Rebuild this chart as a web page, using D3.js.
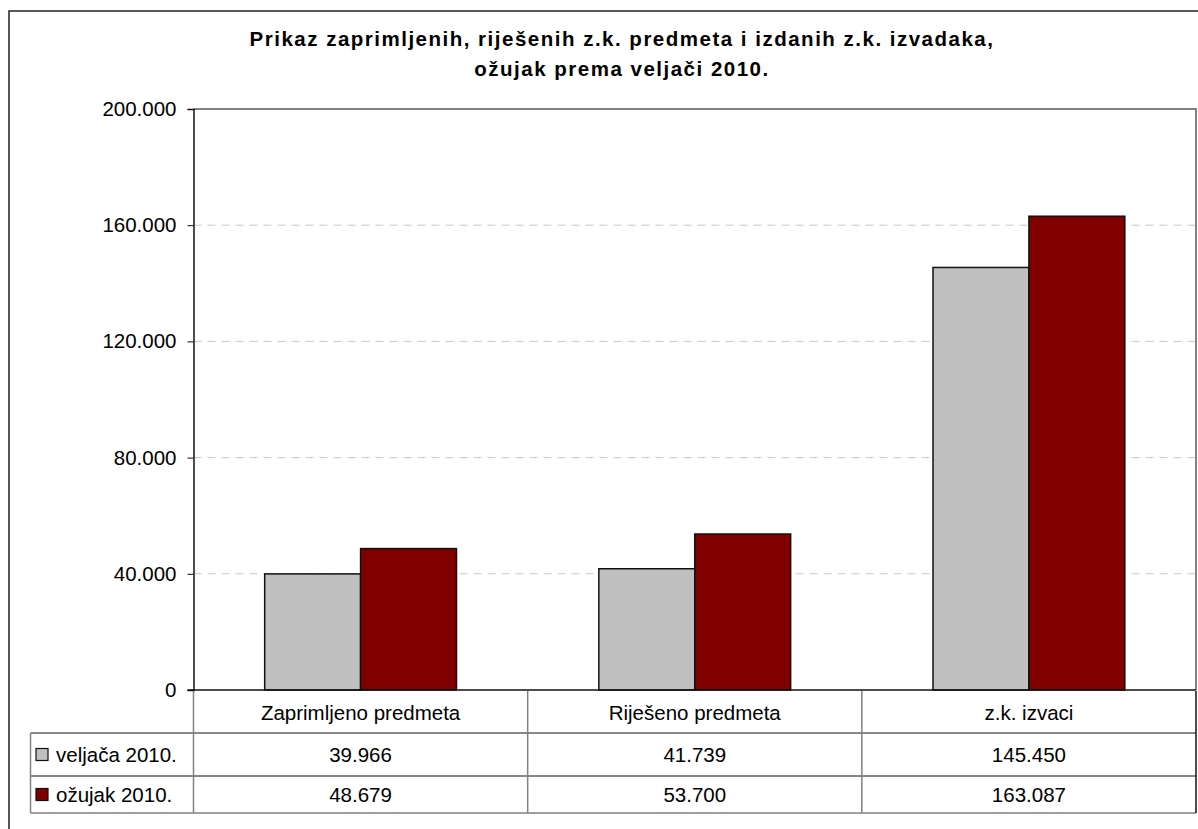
<!DOCTYPE html>
<html>
<head>
<meta charset="utf-8">
<script src="https://cdn.jsdelivr.net/npm/d3@7"></script>
<style>
  html, body { margin: 0; padding: 0; background: #fff; }
  svg { display: block; font-family: "Liberation Sans", Arial, sans-serif; }
</style>
</head>
<body>
<svg id="chart" width="1198" height="829"></svg>
<script>
// ---- data ----
const categories = ["Zaprimljeno predmeta", "Riješeno predmeta", "z.k. izvaci"];
const seriesNames = ["veljača 2010.", "ožujak 2010."];
const veljaca = [39966, 41739, 145450];
const ozujak = [48679, 53700, 163087];
const seriesValues = [veljaca, ozujak];
const yTicks = [0, 40000, 80000, 120000, 160000, 200000];
const seriesColors = ["#c0c0c0", "#800000"];
const titleLines = ["Prikaz zaprimljenih, riješenih z.k. predmeta i izdanih z.k. izvadaka,", "ožujak prema veljači 2010."];

const svg = d3.select("#chart");
const W = 1198, H = 829;
const plot = { left: 193.5, right: 1196, top: 109, bottom: 690 };
const FS = 20.5;

const loc = d3.formatLocale({ decimal: ",", thousands: ".", grouping: [3], currency: ["", ""] });
const fmt = loc.format(",");

// outer frame
svg.append("rect").attr("x", 9).attr("y", 11).attr("width", W + 10).attr("height", H + 10)
  .attr("fill", "none").attr("stroke", "#222").attr("stroke-width", 1.5);

// title
svg.append("g").selectAll("text").data(titleLines).join("text")
  .attr("x", 622).attr("y", (d, i) => 46 + i * 30)
  .attr("text-anchor", "middle").attr("font-weight", "bold").attr("font-size", 20.5)
  .attr("letter-spacing", 1.5)
  .attr("fill", "#000").text(d => d);

const x0 = d3.scaleBand().domain(categories).range([plot.left, plot.right])
  .paddingInner(0.426).paddingOuter(0.213);
const x1 = d3.scaleBand().domain(seriesNames).range([0, x0.bandwidth()]).padding(0);
const y = d3.scaleLinear().domain([0, 200000]).range([plot.bottom, plot.top]);

// gridlines
svg.append("g").selectAll("line").data(yTicks.filter(t => t > 0 && t < 200000)).join("line")
  .attr("x1", plot.left).attr("x2", plot.right)
  .attr("y1", d => y(d)).attr("y2", d => y(d))
  .attr("stroke", "#c8c8c8").attr("stroke-width", 1).attr("stroke-dasharray", "8,6");

// plot area top/right border
svg.append("path")
  .attr("d", `M${plot.left},${plot.top}H${plot.right}V${plot.bottom}`)
  .attr("fill", "none").attr("stroke", "#808080").attr("stroke-width", 2);

// bars
const groups = svg.append("g").selectAll("g").data(categories).join("g")
  .attr("transform", d => `translate(${x0(d)},0)`);
groups.selectAll("rect").data((d, i) => seriesNames.map((s, j) => ({ s, j, v: seriesValues[j][i] })))
  .join("rect")
  .attr("x", d => x1(d.s)).attr("width", x1.bandwidth())
  .attr("y", d => y(d.v)).attr("height", d => y(0) - y(d.v))
  .attr("fill", d => seriesColors[d.j]).attr("stroke", "#111").attr("stroke-width", 1.5);

// y axis
const yAxis = svg.append("g").attr("transform", `translate(${plot.left},0)`)
  .call(d3.axisLeft(y).tickValues(yTicks).tickFormat(fmt).tickSize(6).tickPadding(11));
yAxis.select(".domain").attr("stroke", "#111").attr("stroke-width", 1.5);
yAxis.selectAll(".tick line").attr("stroke", "#111");
yAxis.selectAll(".tick text").attr("font-size", FS).attr("fill", "#000")
  .attr("font-family", "'Liberation Sans', Arial, sans-serif");

// x-axis baseline
svg.append("line").attr("x1", plot.left - 6).attr("x2", plot.right)
  .attr("y1", plot.bottom).attr("y2", plot.bottom).attr("stroke", "#111").attr("stroke-width", 1.5);

// data table
const rows = [691, 733, 776, 813];
const tableLeft = 30.5;
const colEdges = categories.map(c => x0(c) - x0.step() * x0.paddingInner() / 2);
colEdges.push(plot.right);
const tg = svg.append("g");
// horizontal lines
tg.append("line").attr("x1", tableLeft).attr("x2", plot.right).attr("y1", rows[1]).attr("y2", rows[1]).attr("stroke", "#111");
tg.append("line").attr("x1", tableLeft).attr("x2", plot.right).attr("y1", rows[2]).attr("y2", rows[2]).attr("stroke", "#111");
tg.append("line").attr("x1", tableLeft).attr("x2", plot.right).attr("y1", rows[3]).attr("y2", rows[3]).attr("stroke", "#808080").attr("stroke-width", 1.5);
// vertical lines
tg.append("line").attr("x1", tableLeft).attr("x2", tableLeft).attr("y1", rows[1]).attr("y2", rows[3]).attr("stroke", "#808080").attr("stroke-width", 1.5);
tg.append("line").attr("x1", plot.left).attr("x2", plot.left).attr("y1", rows[0]).attr("y2", rows[3]).attr("stroke", "#808080").attr("stroke-width", 1.5);
colEdges.slice(1, 3).forEach(xe => {
  tg.append("line").attr("x1", xe).attr("x2", xe).attr("y1", rows[0]).attr("y2", rows[3]).attr("stroke", "#808080").attr("stroke-width", 1.5);
});
tg.append("line").attr("x1", plot.right).attr("x2", plot.right).attr("y1", rows[0]).attr("y2", rows[3]).attr("stroke", "#111").attr("stroke-width", 1.5);

// category labels
tg.selectAll("text.cat").data(categories).join("text").attr("class", "cat")
  .attr("x", d => x0(d) + x0.bandwidth() / 2).attr("y", (rows[0] + rows[1]) / 2 + 7.5)
  .attr("text-anchor", "middle").attr("font-size", FS).attr("fill", "#000").text(d => d);

// value rows
seriesNames.forEach((s, j) => {
  const cy = (rows[j + 1] + rows[j + 2]) / 2;
  tg.selectAll(`text.v${j}`).data(categories).join("text").attr("class", `v${j}`)
    .attr("x", d => x0(d) + x0.bandwidth() / 2).attr("y", cy + 7.5)
    .attr("text-anchor", "middle").attr("font-size", FS).attr("fill", "#000")
    .text((d, i) => fmt(seriesValues[j][i]));
  tg.append("rect").attr("x", 36).attr("y", cy - 6).attr("width", 12).attr("height", 12)
    .attr("fill", seriesColors[j]).attr("stroke", "#111").attr("stroke-width", 1.2);
  tg.append("text").attr("x", 56).attr("y", cy + 7.5).attr("font-size", FS).attr("fill", "#000").text(s);
});
</script>
</body>
</html>
